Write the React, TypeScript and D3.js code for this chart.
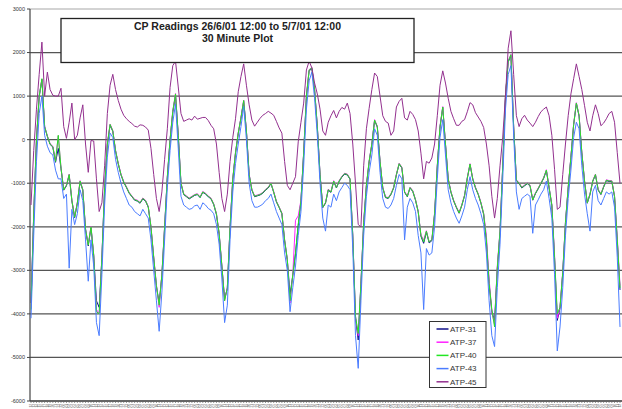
import React from 'react';
import * as d3 from 'd3';

const W = 622;
const H = 409;

const titleLines = ['CP Readings 26/6/01 12:00 to 5/7/01 12:00', '30 Minute Plot'];
const yTicks = [3000, 2000, 1000, 0, -1000, -2000, -3000, -4000, -5000, -6000];
const seriesNames = ['ATP-31', 'ATP-37', 'ATP-40', 'ATP-43', 'ATP-45'];
const seriesColors = ['#10108a', '#ff20ff', '#22e622', '#4a7cff', '#93308f'];

// hourly readings (every second 30-minute category)
const atp31 = [
  -3750,-1720,-20,980,1380,290,70,-110,-170,-520,
  -200,-660,-1160,-1060,-820,-1410,-1790,-1460,-970,-1160,
  -2070,-2440,-2020,-2670,-3700,-3850,-2720,-1120,-110,330,
  190,-260,-560,-810,-980,-1100,-1230,-1310,-1390,-1410,
  -1460,-1360,-1410,-1550,-2020,-2720,-3370,-3750,-3120,-2020,
  -870,-10,630,1020,90,-1010,-1260,-1310,-1360,-1320,
  -1280,-1260,-1330,-1210,-1250,-1310,-1360,-1490,-1720,-2170,
  -2920,-3650,-3420,-2020,-910,-310,140,490,880,190,
  -810,-1160,-1310,-1290,-1270,-1230,-1160,-1110,-1010,-1210,
  -1430,-1560,-1700,-2320,-2770,-3550,-3120,-2620,-1970,-1410,
  -310,990,1580,1630,1140,290,-810,-1560,-1460,-1160,
  -1210,-960,-1110,-960,-860,-790,-810,-910,-2220,-4100,
  -4600,-3320,-1920,-1060,-510,-110,440,290,-510,-1110,
  -1330,-1350,-1260,-1110,-810,-560,-650,-1210,-1310,-1110,
  -1190,-1390,-1660,-2220,-2380,-2120,-2370,-2320,-1720,-610,
  290,740,-110,-910,-1210,-1410,-1560,-1690,-1510,-1290,
  -890,-570,-910,-1110,-1260,-1460,-1720,-2320,-3320,-3950,
  -4150,-2970,-2120,-610,990,1780,1930,290,-940,-1010,
  -1110,-1060,-1010,-1060,-1390,-1240,-1130,-1010,-890,-710,
  -1110,-1510,-2720,-4150,-3870,-3070,-1920,-1110,-410,340,
  830,540,-310,-960,-1460,-1260,-960,-810,-1160,-1260,
  -1090,-940,-960,-960,-1310,-2320,-3450,
];

const atp37 = [
  -3880,-1690,10,1010,1390,310,90,-90,-150,-490,
  90,-640,-1140,-1040,-790,-1390,-1770,-1440,-940,-1140,
  -2040,-2410,-1990,-2640,-3900,-4000,-2690,-1090,-90,360,
  210,-240,-540,-790,-960,-1080,-1210,-1290,-1370,-1390,
  -1440,-1340,-1390,-1530,-1990,-2690,-3340,-3850,-3090,-1990,
  -840,10,660,1060,110,-990,-1240,-1290,-1340,-1300,
  -1260,-1240,-1310,-1190,-1230,-1290,-1340,-1470,-1690,-2140,
  -2890,-3700,-3390,-1990,-890,-290,160,510,910,210,
  -790,-1140,-1290,-1270,-1250,-1210,-1140,-1090,-990,-1190,
  -1410,-1540,-1680,-2290,-2740,-3750,-3090,-1850,-1750,-1390,
  -290,1010,1610,1660,1160,310,-790,-1540,-1440,-1140,
  -1190,-940,-1090,-940,-840,-770,-790,-890,-2190,-4050,
  -4500,-3290,-1890,-1040,-490,-90,460,310,-490,-1090,
  -1310,-1330,-1240,-1090,-790,-540,-630,-1190,-1290,-1090,
  -1170,-1370,-1640,-2190,-2300,-2090,-2340,-2290,-1690,-590,
  310,760,-90,-890,-1190,-1390,-1540,-1670,-1490,-1270,
  -870,-550,-890,-1090,-1240,-1440,-1690,-2200,-3200,-3950,
  -4250,-2900,-2090,-590,1010,1810,1960,310,-920,-990,
  -1090,-1040,-990,-1040,-1370,-1220,-1110,-990,-870,-690,
  -1090,-1490,-2650,-4100,-3840,-3040,-1890,-1090,-390,360,
  850,560,-290,-940,-1440,-1240,-940,-790,-1140,-1240,
  -1070,-920,-940,-940,-1290,-2250,-3350,
];

const atp40 = [
  -3900,-1700,0,1000,1400,300,80,-100,-160,-500,
  100,-650,-1150,-1050,-800,-1400,-1780,-1450,-950,-1150,
  -2050,-2420,-2000,-2650,-3950,-4000,-2700,-1100,-100,350,
  200,-250,-550,-800,-970,-1090,-1220,-1300,-1380,-1400,
  -1450,-1350,-1400,-1540,-2000,-2700,-3350,-3800,-3100,-2000,
  -850,0,650,1050,100,-1000,-1250,-1300,-1350,-1310,
  -1270,-1250,-1320,-1200,-1240,-1300,-1350,-1480,-1700,-2150,
  -2900,-3700,-3400,-2000,-900,-300,150,500,900,200,
  -800,-1150,-1300,-1280,-1260,-1220,-1150,-1100,-1000,-1200,
  -1420,-1550,-1690,-2300,-2750,-3700,-3100,-2600,-1950,-1400,
  -300,1000,1600,1650,1150,300,-800,-1550,-1450,-1150,
  -1200,-950,-1100,-950,-850,-780,-800,-900,-2200,-4050,
  -4450,-3300,-1900,-1050,-500,-100,450,300,-500,-1100,
  -1320,-1340,-1250,-1100,-800,-550,-640,-1200,-1300,-1100,
  -1180,-1380,-1650,-2200,-2350,-2100,-2350,-2300,-1700,-600,
  300,750,-100,-900,-1200,-1400,-1550,-1680,-1500,-1280,
  -880,-560,-900,-1100,-1250,-1450,-1700,-2300,-3300,-3900,
  -4300,-2950,-2100,-600,1000,1800,1950,300,-930,-1000,
  -1100,-1050,-1000,-1050,-1380,-1230,-1120,-1000,-880,-700,
  -1100,-1500,-2700,-4000,-3850,-3050,-1900,-1100,-400,350,
  840,550,-300,-950,-1450,-1250,-950,-800,-1150,-1250,
  -1080,-930,-950,-950,-1300,-2300,-3400,
];

const atp43 = [
  -4100,-2200,-500,600,1000,100,-150,-300,-350,-700,
  -900,-900,-1350,-1250,-2950,-1600,-1950,-1700,-1150,-1400,
  -2300,-3250,-2300,-2900,-4200,-4500,-3100,-1500,-400,150,
  50,-450,-750,-1000,-1200,-1350,-1500,-1550,-1650,-1700,
  -1750,-1600,-1700,-1800,-2300,-3000,-3700,-4400,-3500,-2300,
  -1100,-250,400,820,-200,-1300,-1500,-1550,-1600,-1580,
  -1520,-1500,-1600,-1450,-1500,-1580,-1620,-1700,-1950,-2400,
  -3200,-4200,-3800,-2300,-1200,-550,-100,300,760,0,
  -1000,-1400,-1550,-1550,-1520,-1480,-1400,-1350,-1250,-1450,
  -1650,-1800,-1950,-2600,-3000,-3950,-3400,-2900,-2200,-1650,
  -600,700,1350,1550,950,100,-1000,-1800,-2100,-1500,
  -1550,-1250,-1400,-1200,-1100,-1000,-1050,-1150,-2500,-4500,
  -5250,-3700,-2200,-1300,-750,-350,250,100,-750,-1350,
  -1550,-1580,-1500,-1350,-1050,-800,-900,-2300,-1550,-1350,
  -1450,-1650,-2200,-2600,-3900,-2500,-2650,-2600,-2000,-900,
  50,460,-350,-1150,-1450,-1650,-1800,-1920,-1750,-1550,
  -1150,-850,-1150,-1350,-1500,-1700,-1950,-2600,-3700,-4500,
  -4750,-3400,-2400,-900,700,1500,1700,100,-1200,-1600,
  -1350,-1300,-1250,-1300,-2150,-1500,-1380,-1250,-1150,-950,
  -1350,-1800,-3100,-4850,-4300,-3400,-2200,-1350,-700,50,
  400,250,-600,-1250,-1700,-2100,-1200,-1050,-1400,-1500,
  -1350,-1200,-1250,-1200,-1550,-2700,-4300,
];

const atp45 = [
  -1500,-250,700,1500,2240,1000,1550,1150,1020,1000,
  1000,1180,300,30,400,840,0,100,500,800,
  -100,-750,-20,-30,-900,-1650,-1450,-600,600,1250,
  1500,1150,900,700,560,480,420,370,310,290,
  340,330,290,220,-200,-800,-1350,-1650,-1200,-450,
  250,1200,1700,1800,1210,600,420,450,480,450,
  540,470,490,510,510,440,330,250,-100,-750,
  -1350,-1650,-1250,-500,50,480,1100,1450,1740,1250,
  800,450,310,400,490,560,600,650,610,560,
  420,270,150,-500,-1050,-1150,-1000,-850,-50,400,
  840,1600,1800,1650,1300,1050,700,200,100,400,
  550,670,500,650,740,700,840,600,-100,-1000,
  -1950,-2000,-600,250,720,1150,1530,1450,1000,550,
  420,380,100,200,750,880,950,500,450,650,
  580,460,200,-310,-900,-500,-540,-420,-100,550,
  1250,1580,1300,950,650,480,330,330,420,460,
  640,850,800,620,520,420,280,-100,-600,-1300,
  -1800,-1350,-600,60,1000,2100,2500,1500,550,300,
  480,560,450,380,300,400,530,640,700,750,
  550,100,-680,-1600,-1550,-800,-100,550,1050,1400,
  1740,1450,1150,780,400,200,550,800,600,320,
  380,480,600,650,400,-300,-1000,
];

const seriesData = [atp31, atp37, atp40, atp43, atp45];

const startTime = new Date(2001, 5, 26, 12, 0);
const endTime = new Date(2001, 6, 5, 12, 0);
const categories = d3.timeMinute.every(30)!.range(startTime, new Date(endTime.getTime() + 1000));
const fmtTick = d3.timeFormat('%H');

export default function App() {
  const x = d3.scaleLinear().domain([0, categories.length - 1]).range([31, 620]);
  const y = d3.scaleLinear().domain([-6000, 3000]).range([401, 9]);
  const line = d3
    .line<number>()
    .x((_, i) => x(i * 2))
    .y((d) => y(d));

  const labelIdx = categories.map((_, i) => i).filter((i) => i % 2 === 0);
  const legendY0 = 329;
  const legendStep = 13.2;

  return (
    <svg
      width={W}
      height={H}
      viewBox={`0 0 ${W} ${H}`}
      style={{ position: 'absolute', left: 0, top: 0, background: '#fff' }}
      fontFamily="'Liberation Sans', Arial, sans-serif"
    >
      <rect x={0} y={0} width={W} height={H} fill="#fff" />
      {yTicks.map((t) => (
        <line
          key={t}
          x1={30}
          x2={W}
          y1={y(t)}
          y2={y(t)}
          stroke={t === 3000 ? '#c4c4c4' : t === -6000 ? '#333' : '#555'}
          strokeWidth={t === 3000 ? 1.6 : 1.3}
        />
      ))}
      <line x1={30} x2={30} y1={y(3000)} y2={y(-6000)} stroke="#444" strokeWidth={1.2} />
      {yTicks.map((t) => (
        <g key={'yt' + t}>
          <line x1={27} x2={30} y1={y(t)} y2={y(t)} stroke="#444" strokeWidth={1} />
          <text x={25} y={y(t)} dy="0.35em" textAnchor="end" fontSize={5.5} fill="#333">
            {t}
          </text>
        </g>
      ))}
      {labelIdx.map((i) => (
        <g key={'xt' + i}>
          <line x1={x(i)} x2={x(i)} y1={401} y2={403} stroke="#666" strokeWidth={0.7} />
          <text
            transform={`translate(${x(i) + 1.3},403.8) rotate(-90)`}
            textAnchor="end"
            fontSize={3.4}
            fill="#777"
          >
            {fmtTick(categories[i])}
          </text>
        </g>
      ))}
      {seriesData.map((s, k) => (
        <path
          key={seriesNames[k]}
          d={line(s) || ''}
          fill="none"
          stroke={seriesColors[k]}
          strokeWidth={1}
          strokeLinejoin="round"
        />
      ))}
      <rect x={61} y={18.5} width={353} height={44} fill="#fff" stroke="#222" strokeWidth={1.3} />
      <text x={237.5} y={29.5} textAnchor="middle" fontSize={10.5} fontWeight="bold" fill="#222">
        {titleLines[0]}
      </text>
      <text x={237.5} y={41.5} textAnchor="middle" fontSize={10.5} fontWeight="bold" fill="#222">
        {titleLines[1]}
      </text>
      <rect x={429.5} y={321.5} width={56.5} height={66} fill="#fff" stroke="#333" strokeWidth={1} />
      {seriesNames.map((n, k) => (
        <g key={'lg' + n}>
          <line
            x1={436.5}
            x2={448.5}
            y1={legendY0 + k * legendStep}
            y2={legendY0 + k * legendStep}
            stroke={seriesColors[k]}
            strokeWidth={1.5}
          />
          <text x={450} y={legendY0 + k * legendStep} dy="0.35em" fontSize={8} fill="#333">
            {n}
          </text>
        </g>
      ))}
    </svg>
  );
}
